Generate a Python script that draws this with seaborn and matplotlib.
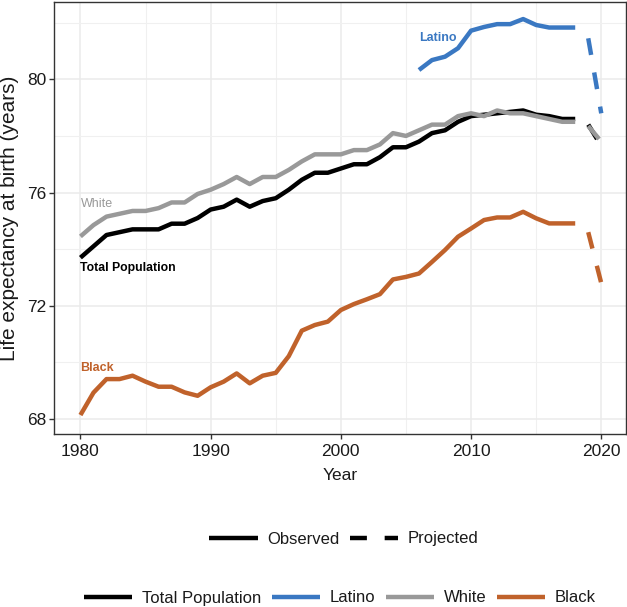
import matplotlib
matplotlib.use("Agg")
import matplotlib.pyplot as plt
import seaborn as sns
import pandas as pd
from matplotlib.lines import Line2D

# ---------------- data ----------------
years = list(range(1980, 2019))
total_pop = [73.7, 74.1, 74.5, 74.6, 74.7, 74.7, 74.7, 74.9, 74.9, 75.1,
             75.4, 75.5, 75.75, 75.5, 75.7, 75.8, 76.1, 76.45, 76.7, 76.7,
             76.85, 77.0, 77.0, 77.25, 77.6, 77.6, 77.8, 78.1, 78.2, 78.5,
             78.7, 78.75, 78.8, 78.85, 78.9, 78.75, 78.7, 78.6, 78.6]
white = [74.45, 74.85, 75.15, 75.25, 75.35, 75.35, 75.45, 75.65, 75.65, 75.95,
         76.1, 76.3, 76.55, 76.3, 76.55, 76.55, 76.8, 77.1, 77.35, 77.35,
         77.35, 77.5, 77.5, 77.7, 78.1, 78.0, 78.2, 78.4, 78.4, 78.7,
         78.8, 78.7, 78.9, 78.8, 78.8, 78.7, 78.6, 78.5, 78.5]
black = [68.14, 68.93, 69.41, 69.41, 69.53, 69.32, 69.14, 69.14, 68.94, 68.82,
         69.12, 69.32, 69.61, 69.26, 69.53, 69.63, 70.22, 71.12, 71.32, 71.44,
         71.85, 72.06, 72.23, 72.41, 72.93, 73.02, 73.14, 73.55, 73.97, 74.44,
         74.73, 75.03, 75.12, 75.12, 75.32, 75.09, 74.91, 74.91, 74.91]
latino_years = list(range(2006, 2019))
latino = [80.33, 80.68, 80.8, 81.1, 81.72, 81.85, 81.95, 81.95, 82.13, 81.92,
          81.83, 81.83, 81.83]

proj_years = [2019, 2020]
proj_total = [78.4, 77.65]
proj_white = [78.35, 77.8]
proj_latino = [81.45, 78.8]
proj_black = [74.6, 72.8]

groups = ["Total Population", "Latino", "White", "Black"]
colors = {"Total Population": "#000000", "Latino": "#3a78c2",
          "White": "#999999", "Black": "#c0622b"}

rows = []
for g, yrs, vals in [("Total Population", years, total_pop),
                     ("Latino", latino_years, latino),
                     ("White", years, white),
                     ("Black", years, black)]:
    rows += [dict(year=y, le=v, group=g, kind="Observed") for y, v in zip(yrs, vals)]
for g, vals in [("Total Population", proj_total), ("Latino", proj_latino),
                ("White", proj_white), ("Black", proj_black)]:
    rows += [dict(year=y, le=v, group=g, kind="Projected") for y, v in zip(proj_years, vals)]
df = pd.DataFrame(rows)

# ---------------- style ----------------
sns.set_theme(style="white")
plt.rcParams["font.family"] = ["Liberation Sans", "DejaVu Sans"]

fig = plt.figure(figsize=(6.27, 6.07), dpi=100)
W, H = 627, 607
L, R, T, B = 54.4, 626, 1.5, 434
ax = fig.add_axes([L / W, 1 - B / H, (R - L) / W, (B - T) / H])

LW = 3.2
DASH = (3.8, 4.0)
sns.lineplot(data=df[df.kind == "Observed"], x="year", y="le", hue="group",
             hue_order=groups, palette=colors, linewidth=LW, legend=False,
             ax=ax, estimator=None, sort=True)
sns.lineplot(data=df[df.kind == "Projected"], x="year", y="le", hue="group",
             hue_order=groups, palette=colors, linewidth=LW, legend=False,
             ax=ax, estimator=None, sort=True)
n_obs = len(groups)
for i, ln in enumerate(ax.get_lines()):
    ln.set_solid_capstyle("butt")
    ln.set_dash_capstyle("butt")
    if i >= n_obs:
        ln.set_dashes(DASH)

ax.set_xlim(1978, 2021.9)
ax.set_ylim(67.47, 82.75)
ax.set_xticks([1980, 1990, 2000, 2010, 2020])
ax.set_xticks([1985, 1995, 2005, 2015], minor=True)
ax.set_yticks([68, 72, 76, 80])
ax.set_yticks([70, 74, 78, 82], minor=True)
ax.grid(True, which="major", color="#ebebeb", linewidth=1.1)
ax.grid(True, which="minor", color="#f0f0f0", linewidth=0.8)
ax.set_axisbelow(True)
for s in ax.spines.values():
    s.set_color("#333333")
    s.set_linewidth(1.0)
ax.tick_params(axis="both", which="major", length=3.5, width=1.0,
               color="#333333", labelsize=12.5, labelcolor="#1a1a1a",
               bottom=True, left=True)
ax.tick_params(axis="x", which="major", pad=4)
ax.tick_params(axis="y", which="major", pad=2.5)
ax.tick_params(which="minor", length=0)
ax.set_xlabel("")
ax.set_ylabel("")

fig.text(10 / W, 1 - 218 / H, "Life expectancy at birth (years)", rotation=90,
         ha="center", va="center", fontsize=15, color="#1a1a1a")
fig.text(340 / W, 1 - 476 / H, "Year", ha="center", va="center",
         fontsize=12.5, color="#1a1a1a")

# direct labels
ax.text(1980, 75.59, "White", color=colors["White"], fontsize=9, ha="left", va="center")
ax.text(1980, 73.34, "Total Population", color="#000000", fontsize=8.8,
        fontweight="bold", ha="left", va="center")
ax.text(1980, 69.79, "Black", color=colors["Black"], fontsize=9,
        fontweight="bold", ha="left", va="center")
ax.text(2006, 81.45, "Latino", color=colors["Latino"], fontsize=9,
        fontweight="bold", ha="left", va="center")

# legends
h1 = [Line2D([], [], color="black", lw=LW, solid_capstyle="butt"),
      Line2D([], [], color="black", lw=LW, dashes=DASH, dash_capstyle="butt")]
leg1 = fig.legend(h1, ["Observed", "Projected"], loc="center",
                  bbox_to_anchor=(344 / W, 1 - 539 / H), ncol=2, frameon=False,
                  fontsize=12, handlelength=2.9, handletextpad=0.6,
                  columnspacing=0.6)
h2 = [Line2D([], [], color=colors[g], lw=LW, solid_capstyle="butt") for g in groups]
leg2 = fig.legend(h2, groups, loc="center", bbox_to_anchor=(340 / W, 1 - 598 / H),
                  ncol=4, frameon=False, fontsize=12, handlelength=2.9,
                  handletextpad=0.6, columnspacing=0.6)
for leg in (leg1, leg2):
    for t in leg.get_texts():
        t.set_color("#1a1a1a")

fig.savefig("out.png", dpi=100)
